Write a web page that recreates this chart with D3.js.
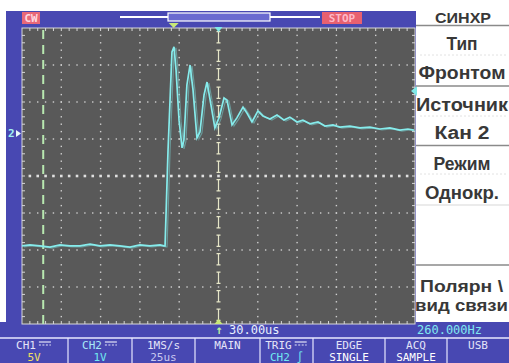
<!DOCTYPE html>
<html>
<head>
<meta charset="utf-8">
<script src="https://cdn.jsdelivr.net/npm/d3@7"></script>
<style>
  html, body { margin: 0; padding: 0; background: #ffffff; }
  svg { display: block; }
</style>
</head>
<body>
<div id="scope"></div>
<script>
// Screen size and plot area of the scope grid
const width = 509;
const height = 363;
const grid = {left: 22, right: 415, top: 28, bottom: 324};

// CH2 captured trace (time in us from left edge, volts from screen centre, 1 V/div)
const timeUs = [0, 5, 11.5, 17.8, 24.2, 30.5, 36.9, 43.3, 49.6, 56, 62.3, 68.7, 75, 81.4, 87.8, 90.3,
  91.0, 92.9, 95.4, 96.7, 98.0, 99.9, 101.8, 103.0, 104.9, 106.9, 108.8, 111.3, 113.2, 115.8, 117.7,
  120.2, 122.7, 125.3, 128.5, 130.4, 133.6, 136.7, 140.6, 143.1, 146.3, 150.1, 153.3, 157.7, 162.2,
  166.6, 170.4, 174.9, 178.7, 183.2, 188.3, 192.7, 197.8, 202.2, 208.6, 215.0, 221.3, 227.7, 234.0,
  240.4, 245.5, 249.3];
const ch2Volts = [-1.89, -1.86, -1.89, -1.92, -1.86, -1.89, -1.89, -1.84, -1.89, -1.86, -1.89, -1.92, -1.86, -1.89, -1.86, -1.89,
  -1.89, 0.70, 3.35, 3.49, 2.86, 1.51, 0.76, 0.97, 2.46, 3.0, 2.32, 1.03, 1.19, 2.19, 2.54,
  1.92, 1.30, 1.57, 2.11, 2.05, 1.38, 1.57, 1.86, 1.70, 1.46, 1.76, 1.62, 1.54, 1.65,
  1.51, 1.59, 1.46, 1.51, 1.41, 1.46, 1.35, 1.38, 1.32, 1.35, 1.30, 1.32, 1.27, 1.30,
  1.24, 1.27, 1.24];

// Grid divisions (25 us/div, 1 V/div)
const xDivs = d3.range(0, 251, 25);
const yDivs = d3.range(-4, 5, 1);
const cursorUs = 13.5;
const centerUs = 125;
const trigPosUs = 96.5;
const trigLevelV = 2.3;
const ch2GroundV = 1.15;

// Right menu texts
const menuTitle = "СИНХР";
const menuItems = [
  {label: "Тип", value: "Фронтом"},
  {label: "Источник", value: "Кан 2"},
  {label: "Режим", value: "Однокр."}
];
const menuLast = ["Полярн \\", "вид связи"];

// Bottom soft-key texts
const buttons = [
  {top: "CH1", dc: true, bottom: "5V", color: "#f0e060"},
  {top: "CH2", dc: true, bottom: "1V", color: "#70e8f0"},
  {top: "1MS/s", dc: false, bottom: "25us", color: "#c8c8f0"},
  {top: "MAIN", dc: false, bottom: "", color: "#ffffff"},
  {top: "TRIG", dc: true, bottom: "CH2 ∫", color: "#70e8f0"},
  {top: "EDGE", dc: false, bottom: "SINGLE", color: "#ffffff"},
  {top: "ACQ", dc: false, bottom: "SAMPLE", color: "#ffffff"},
  {top: "USB", dc: false, bottom: "", color: "#ffffff"}
];
const buttonEdges = [0, 68, 132, 195, 260, 313, 385, 447, 509];
const statusTime = "30.00us";
const statusFreq = "260.000Hz";

const blue = "#4848b2";
const mono = "'DejaVu Sans Mono', monospace";

const svg = d3.select("#scope")
  .append("svg")
  .attr("width", width)
  .attr("height", height)
  .attr("viewBox", [0, 0, width, height]);

// scales
const x = d3.scaleLinear().domain([0, 250]).range([grid.left, grid.right]);
const y = d3.scaleLinear().domain([-4, 4]).range([grid.bottom, grid.top]);

// background blue frame
svg.append("rect").attr("x", 6).attr("y", 11).attr("width", 410).attr("height", height - 11).attr("fill", blue);
svg.append("rect").attr("x", 0).attr("y", 322).attr("width", width).attr("height", 41).attr("fill", blue);

// right menu panel
svg.append("rect").attr("x", 416).attr("y", 0).attr("width", 93).attr("height", 322).attr("fill", "#ffffff");

// grid area
svg.append("rect")
  .attr("x", grid.left).attr("y", grid.top)
  .attr("width", grid.right - grid.left).attr("height", grid.bottom - grid.top)
  .attr("fill", "#595959");

const gridG = svg.append("g");
const dotColor = "#cfcfcf";
const xMinor = d3.range(0, 250.01, 5);
const yMinor = d3.range(-4, 4.01, 0.2);

// dotted vertical division lines
xDivs.slice(1, -1).forEach(t => {
  if (t === centerUs) return;
  gridG.selectAll(null)
    .data(yMinor.slice(1, -1))
    .enter().append("rect")
    .attr("x", x(t) - 0.7).attr("y", d => y(d) - 0.7)
    .attr("width", 1.4).attr("height", 1.4)
    .attr("fill", dotColor);
});

// dotted horizontal division lines
yDivs.slice(1, -1).forEach(v => {
  gridG.selectAll(null)
    .data(xMinor.slice(1, -1))
    .enter().append("rect")
    .attr("x", d => x(d) - (v === 0 ? 1.3 : 0.7)).attr("y", y(v) - (v === 0 ? 1.3 : 0.7))
    .attr("width", v === 0 ? 2.6 : 1.4).attr("height", v === 0 ? 2.6 : 1.4)
    .attr("fill", v === 0 ? "#e0e0e0" : dotColor);
});

// centre vertical line with "I" marks
const centerMarks = d3.range(-4, 4, 0.5);
gridG.selectAll(null)
  .data(centerMarks)
  .enter().append("path")
  .attr("d", d => {
    const y0 = y(d + 0.1), y1 = y(d + 0.4), cx = x(centerUs);
    return `M${cx},${y0}V${y1}M${cx - 2},${y0}H${cx + 2}M${cx - 2},${y1}H${cx + 2}`;
  })
  .attr("stroke", "#e6e6c8")
  .attr("stroke-width", 1.2)
  .attr("fill", "none");

// border with inward ticks
gridG.append("rect")
  .attr("x", grid.left).attr("y", grid.top)
  .attr("width", grid.right - grid.left).attr("height", grid.bottom - grid.top)
  .attr("fill", "none").attr("stroke", "#d8d8d8").attr("stroke-width", 1);
gridG.selectAll(null)
  .data(xMinor.slice(1, -1))
  .enter().append("path")
  .attr("d", d => `M${x(d)},${grid.top}v3M${x(d)},${grid.bottom}v-3`)
  .attr("stroke", "#d8d8d8");
gridG.selectAll(null)
  .data(yMinor.slice(1, -1))
  .enter().append("path")
  .attr("d", d => `M${grid.left},${y(d)}h3M${grid.right},${y(d)}h-3`)
  .attr("stroke", "#d8d8d8");

// green dashed cursor
svg.append("line")
  .attr("x1", x(cursorUs)).attr("x2", x(cursorUs))
  .attr("y1", grid.top + 2).attr("y2", grid.bottom)
  .attr("stroke", "#b8e8b0").attr("stroke-width", 2)
  .attr("stroke-dasharray", "9,6");

// the CH2 trace
const traceData = timeUs.map((t, i) => ({t: t, v: ch2Volts[i]}));
const line = d3.line().x(d => x(d.t)).y(d => y(d.v));
svg.append("path")
  .datum(traceData)
  .attr("d", line)
  .attr("transform", "translate(2,1)")
  .attr("fill", "none")
  .attr("stroke", "#7fe4e4")
  .attr("stroke-opacity", 0.45)
  .attr("stroke-width", 1.2);
svg.append("path")
  .datum(traceData)
  .attr("d", line)
  .attr("fill", "none")
  .attr("stroke", "#86ecec")
  .attr("stroke-width", 1.7);

// markers: trigger position (top), centre, trigger level, channel ground
svg.append("path")
  .attr("d", `M${x(trigPosUs) - 5},${grid.top - 5}h10l-5,5z`)
  .attr("fill", "#c8e878");
svg.append("path")
  .attr("d", `M${x(centerUs) - 4},${grid.top - 1}h8l-4,5z`)
  .attr("fill", "#80e8e8");
svg.append("path")
  .attr("d", `M${x(centerUs) - 4},${grid.bottom}h8l-4,-5z`)
  .attr("fill", "#c8e878");
svg.append("path")
  .attr("d", `M${grid.right + 2},${y(trigLevelV) - 5}v10l-6,-5z`)
  .attr("fill", "#80e8e8");
svg.append("text")
  .attr("x", 8).attr("y", y(ch2GroundV) + 4)
  .attr("font-family", mono).attr("font-size", 11).attr("font-weight", "bold")
  .attr("fill", "#a0f0f0").text("2");
svg.append("path")
  .attr("d", `M16,${y(ch2GroundV) - 3.5}v7l5,-3.5z`)
  .attr("fill", "#e8f8f8");

// top status bar
svg.append("rect").attr("x", 22).attr("y", 12).attr("width", 18).attr("height", 12).attr("fill", "#e86878");
svg.append("text").attr("x", 31).attr("y", 22).attr("text-anchor", "middle")
  .attr("font-family", mono).attr("font-size", 11).attr("font-weight", "bold")
  .attr("fill", "#ffd8e0").text("CW");
svg.append("line").attr("x1", 120).attr("x2", 320).attr("y1", 17).attr("y2", 17)
  .attr("stroke", "#ffffff").attr("stroke-width", 2);
svg.append("rect").attr("x", 168).attr("y", 13).attr("width", 102).attr("height", 8)
  .attr("fill", "#6a6ad0").attr("stroke", "#ffffff").attr("stroke-width", 1.2);
svg.append("rect").attr("x", 322).attr("y", 12).attr("width", 40).attr("height", 12).attr("fill", "#e86070");
svg.append("text").attr("x", 342).attr("y", 22).attr("text-anchor", "middle")
  .attr("font-family", mono).attr("font-size", 11).attr("font-weight", "bold")
  .attr("fill", "#ffb8c8").text("STOP");

// right menu
const panel = svg.append("g").attr("font-family", "'Liberation Sans', Arial, sans-serif")
  .attr("font-weight", "bold").attr("fill", "#383838");
panel.append("text").attr("x", 463).attr("y", 23).attr("text-anchor", "middle")
  .attr("font-size", 14).attr("textLength", 56).attr("lengthAdjust", "spacingAndGlyphs").text(menuTitle);

const sepYs = [25.5, 86, 145.5, 205, 265];
panel.selectAll(".sep")
  .data(sepYs)
  .enter().append("line")
  .attr("class", "sep")
  .attr("x1", 416).attr("x2", width).attr("y1", d => d).attr("y2", d => d)
  .attr("stroke", (d, i) => i === 3 ? "#e4e4e4" : "#8a8a8a").attr("stroke-width", 1.5);
panel.selectAll(".faint")
  .data([55, 116, 174])
  .enter().append("line")
  .attr("class", "faint")
  .attr("x1", 420).attr("x2", 506).attr("y1", d => d).attr("y2", d => d)
  .attr("stroke", "#e2e2e2").attr("stroke-dasharray", "2,2");

const labelWidths = [31, 92, 57];
const valueWidths = [87, 55, 74];
menuItems.forEach((m, i) => {
  const top = sepYs[i];
  panel.append("text").attr("x", 462).attr("y", top + 24.5).attr("text-anchor", "middle")
    .attr("font-size", 18).attr("textLength", labelWidths[i]).attr("lengthAdjust", "spacingAndGlyphs").text(m.label);
  panel.append("text").attr("x", 462).attr("y", top + 53).attr("text-anchor", "middle")
    .attr("font-size", 18).attr("textLength", valueWidths[i]).attr("lengthAdjust", "spacingAndGlyphs").text(m.value);
});
panel.append("text").attr("x", 420).attr("y", 292)
  .attr("font-size", 17).attr("textLength", 83).attr("lengthAdjust", "spacingAndGlyphs").text(menuLast[0]);
panel.append("text").attr("x", 415).attr("y", 311)
  .attr("font-size", 17).attr("textLength", 93).attr("lengthAdjust", "spacingAndGlyphs").text(menuLast[1]);

// status line under the grid
svg.append("text").attr("x", x(centerUs) - 3).attr("y", 334)
  .attr("font-family", mono).attr("font-size", 12).attr("font-weight", "bold")
  .attr("fill", "#b8f0a0").text("↑");
svg.append("text").attr("x", 229).attr("y", 334)
  .attr("font-family", mono).attr("font-size", 12)
  .attr("fill", "#e8f0ff").text(statusTime);
svg.append("text").attr("x", 417).attr("y", 334)
  .attr("font-family", mono).attr("font-size", 12)
  .attr("fill", "#80e8f0").text(statusFreq);

// soft keys
svg.append("line").attr("x1", 0).attr("x2", width).attr("y1", 338).attr("y2", 338)
  .attr("stroke", "#e8e8ff").attr("stroke-width", 1.5);
const keys = svg.append("g").attr("font-family", mono).attr("font-size", 11);
keys.selectAll(".edge")
  .data(buttonEdges.slice(1, -1))
  .enter().append("line")
  .attr("class", "edge")
  .attr("x1", d => d).attr("x2", d => d).attr("y1", 338).attr("y2", height)
  .attr("stroke", "#e8e8ff").attr("stroke-width", 1.2);
buttons.forEach((b, i) => {
  const cx = (buttonEdges[i] + buttonEdges[i + 1]) / 2;
  const topX = b.dc ? cx - 8 : cx;
  keys.append("text").attr("x", topX).attr("y", 349).attr("text-anchor", "middle")
    .attr("fill", i === 1 ? "#a8e8f8" : "#e4e4f8").text(b.top);
  if (b.dc) {
    const sx = topX + b.top.length * 3.3 + 3;
    keys.append("line").attr("x1", sx).attr("x2", sx + 12).attr("y1", 342).attr("y2", 342)
      .attr("stroke", "#e4e4f8").attr("stroke-width", 1.2);
    keys.append("line").attr("x1", sx).attr("x2", sx + 12).attr("y1", 345).attr("y2", 345)
      .attr("stroke", "#e4e4f8").attr("stroke-width", 1.2).attr("stroke-dasharray", "2,1.5");
  }
  if (b.bottom) {
    keys.append("text").attr("x", cx).attr("y", 361).attr("text-anchor", "middle")
      .attr("fill", b.color).text(b.bottom);
  }
});
</script>
</body>
</html>
